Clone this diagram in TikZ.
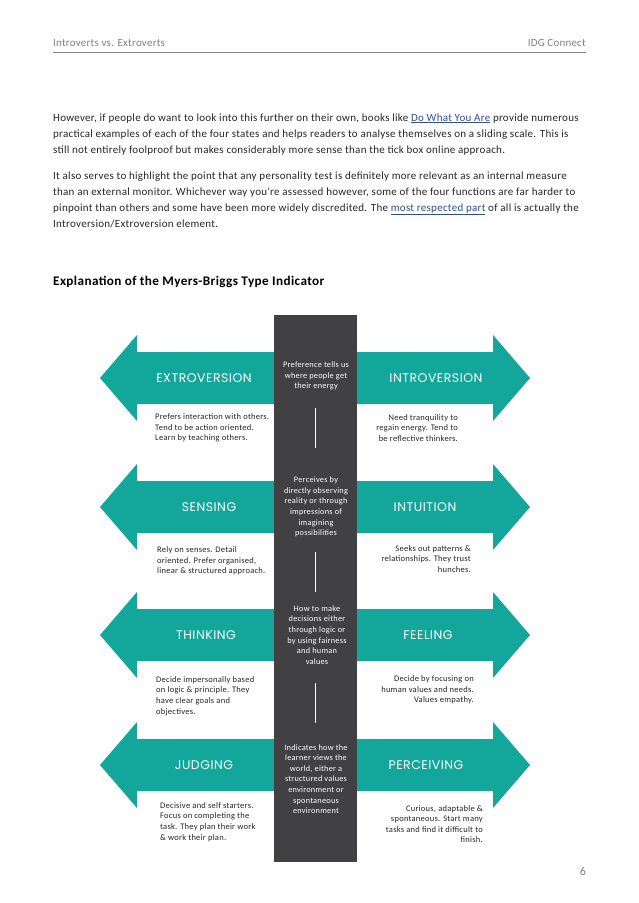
\documentclass[tikz,border=0pt]{standalone}
\usepackage{fontspec}
\setmainfont{Carlito}
\newfontfamily\bodyfont[LetterSpace=2.5]{Carlito}
\newfontfamily\hdrfont[LetterSpace=2]{Carlito}
\newfontfamily\titlefont[LetterSpace=3]{Carlito}
\newfontfamily\smallfont[LetterSpace=3]{Carlito}
\newfontfamily\labelfont[LetterSpace=4]{Poppins}
\definecolor{tealA}{HTML}{13A69A}
\definecolor{darkcol}{HTML}{414042}
\definecolor{hdrgray}{HTML}{808080}
\definecolor{bodytext}{HTML}{262626}
\definecolor{linkblue}{HTML}{2F4F8F}
\newcommand{\mylink}[1]{{\color{linkblue}\underline{#1}}}
\begin{document}
\begin{tikzpicture}[x=1pt,y=-1pt,
  hdr/.style={font=\hdrfont\fontsize{11}{12}\selectfont, text=hdrgray, inner sep=0},
  bodyline/.style={font=\bodyfont\fontsize{11}{13}\selectfont, text=bodytext, inner sep=0, anchor=base west},
  titlestyle/.style={font=\titlefont\bfseries\fontsize{13.2}{15}\selectfont, text=black, inner sep=0, anchor=base west},
  arrowlbl/.style={font=\labelfont\fontsize{12.5}{14}\selectfont, text=white, inner sep=0},
  descl/.style={font=\smallfont\fontsize{8.5}{10.6}\selectfont, text=bodytext, inner sep=0, align=left, anchor=west},
  descr/.style={font=\smallfont\fontsize{8.5}{10.6}\selectfont, text=bodytext, inner sep=0, align=right, anchor=east},
  coltext/.style={font=\smallfont\fontsize{8.3}{10.6}\selectfont, text=white, inner sep=0, align=center},
  tealshape/.style={fill=tealA, draw=none},
  wline/.style={draw=white, line width=1pt}
]
\useasboundingbox[fill=white] (0,0) rectangle (638,903);

% header
\node[hdr, anchor=base west] (h1) at (53,46) {Introverts vs. Extroverts};
\node[hdr, anchor=base east] (h2) at (586,46) {IDG Connect};
\coordinate (hl1) at (53,52);
\coordinate (hl2) at (586,52);
\draw[hdrgray, line width=0.8pt] (hl1) -- (hl2);

% body text
\node[bodyline] (b1) at (53,121) {However, if people do want to look into this further on their own, books like \mylink{Do What You Are} provide numerous};
\node[bodyline] (b2) at (53,137) {practical examples of each of the four states and helps readers to analyse themselves on a sliding scale. This is};
\node[bodyline] (b3) at (53,153) {still not entirely foolproof but makes considerably more sense than the tick box online approach.};
\node[bodyline] (b4) at (53,179) {It also serves to highlight the point that any personality test is definitely more relevant as an internal measure};
\node[bodyline] (b5) at (53,195) {than an external monitor. Whichever way you’re assessed however, some of the four functions are far harder to};
\node[bodyline] (b6) at (53,211) {pinpoint than others and some have been more widely discredited. The \mylink{most respected part} of all is actually the};
\node[bodyline] (b7) at (53,227) {Introversion/Extroversion element.};

\node[titlestyle] (title) at (53,285) {Explanation of the Myers-Briggs Type Indicator};

% arrows
\foreach \c in {378,507,635,765} {
  \fill[tealshape] (300,\c-26) -- (137,\c-26) -- (137,\c-43) -- (100,\c) -- (137,\c+43) -- (137,\c+26) -- (300,\c+26) -- cycle;
  \fill[tealshape] (330,\c-26) -- (493,\c-26) -- (493,\c-43) -- (530,\c) -- (493,\c+43) -- (493,\c+26) -- (330,\c+26) -- cycle;
}

% central column
\node[fill=darkcol, minimum width=83, minimum height=547, anchor=north west, inner sep=0] (col) at (274,315) {};

% arrow labels
\node[arrowlbl] (ext) at (204,378) {EXTROVERSION};
\node[arrowlbl] (intr) at (436,378) {INTROVERSION};
\node[arrowlbl] (sen) at (209,507) {SENSING};
\node[arrowlbl] (intu) at (425,507) {INTUITION};
\node[arrowlbl] (thi) at (206,635) {THINKING};
\node[arrowlbl] (fee) at (428,635) {FEELING};
\node[arrowlbl] (jud) at (204,765) {JUDGING};
\node[arrowlbl] (per) at (426,765) {PERCEIVING};

% descriptions
\node[descl] (d1) at (155,428) {Prefers interaction with others.\\Tend to be action oriented.\\Learn by teaching others.};
\node[descr] (d2) at (458,428) {Need tranquility to\\regain energy. Tend to\\be reflective thinkers.};
\node[descl] (d3) at (157,561) {Rely on senses. Detail\\oriented. Prefer organised,\\linear \& structured approach.};
\node[descr] (d4) at (471,559) {Seeks out patterns \&\\relationships. They trust\\hunches.};
\node[descl] (d5) at (156,696) {Decide impersonally based\\on logic \& principle. They\\have clear goals and\\objectives.};
\node[descr] (d6) at (474,690) {Decide by focusing on\\human values and needs.\\Values empathy.};
\node[descl] (d7) at (160,822) {Decisive and self starters.\\Focus on completing the\\task. They plan their work\\\& work their plan.};
\node[descr] (d8) at (483,824) {Curious, adaptable \&\\spontaneous. Start many\\tasks and find it difficult to\\finish.};

% column texts
\node[coltext] (c1) at (316,376) {Preference tells us\\where people get\\their energy};
\node[coltext] (c2) at (316,507) {Perceives by\\directly observing\\reality or through\\impressions of\\imagining\\possibilities};
\node[coltext] (c3) at (317,635) {How to make\\decisions either\\through logic or\\by using fairness\\and human\\values};
\node[coltext] (c4) at (316,779) {Indicates how the\\learner views the\\world, either a\\structured values\\environment or\\spontaneous\\environment};

% white separators
\coordinate (s1a) at (315,408); \coordinate (s1b) at (315,448);
\coordinate (s2a) at (315,552); \coordinate (s2b) at (315,592);
\coordinate (s3a) at (315,683); \coordinate (s3b) at (315,723);
\draw[wline] (s1a) -- (s1b);
\draw[wline] (s2a) -- (s2b);
\draw[wline] (s3a) -- (s3b);

% page number
\node[hdr, font=\fontsize{12}{14}\selectfont, anchor=base] (pg) at (583,875) {6};
\end{tikzpicture}
\end{document}
